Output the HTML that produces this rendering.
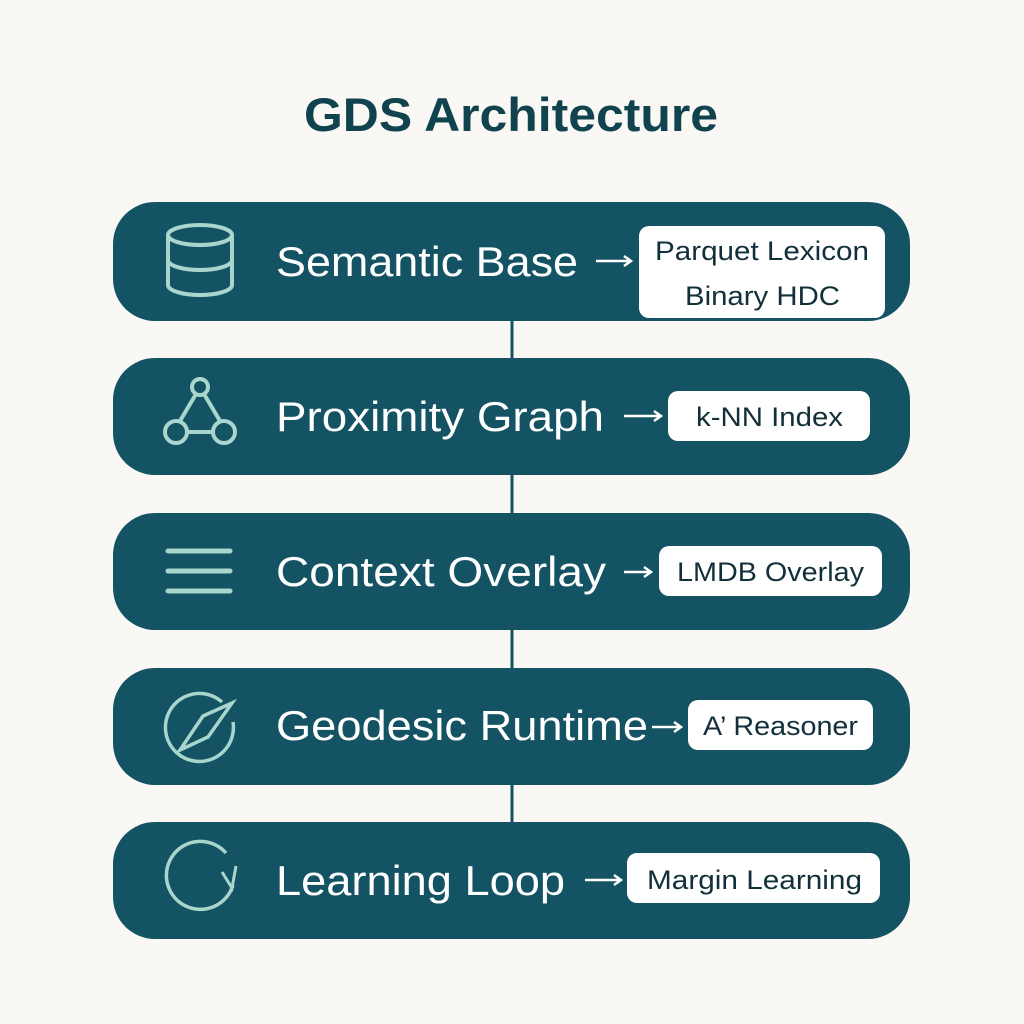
<!DOCTYPE html>
<html><head><style>
html,body{margin:0;padding:0;background:#f9f8f5;}
svg{display:block;}
.l{font-family:"Liberation Sans",sans-serif;font-size:42px;fill:#fff;}
.b{font-family:"Liberation Sans",sans-serif;font-size:27px;fill:#12303a;}
.ic{fill:none;stroke:#a9d6cc;stroke-width:4;}
.ar{stroke:#fff;stroke-width:2.5;fill:none;}
</style></head><body>
<svg width="1024" height="1024" viewBox="0 0 1024 1024">
<rect width="1024" height="1024" fill="#f9f8f5"/>
<text x="304" y="131" textLength="414" lengthAdjust="spacingAndGlyphs" font-family="Liberation Sans,sans-serif" font-weight="bold" font-size="47" fill="#11434f">GDS Architecture</text>
<line x1="512" y1="315" x2="512" y2="830" stroke="#135363" stroke-width="3"/>
<g fill="#135363">
<rect x="113" y="202" width="797" height="119" rx="42"/>
<rect x="113" y="358" width="797" height="117" rx="42"/>
<rect x="113" y="513" width="797" height="117" rx="42"/>
<rect x="113" y="668" width="797" height="117" rx="42"/>
<rect x="113" y="822" width="797" height="117" rx="42"/>
</g>
<g class="ic">
<ellipse cx="200" cy="235" rx="32" ry="10"/>
<path d="M168 235 V285 A32 10 0 0 0 232 285 V235"/>
<path d="M168 260 A32 10 0 0 0 232 260"/>
<circle cx="200" cy="387" r="8"/><circle cx="176" cy="432" r="11"/><circle cx="224" cy="432" r="11"/>
<path d="M196 394 L180 421 M204 394 L220 421 M187 432 H213"/>
<path d="M168 551 H230 M168 571 H230 M168 591 H230" stroke-linecap="round" stroke-width="5"/>
<path d="M222 702 A34 34 0 1 0 233 722" stroke-width="3.5"/>
<path d="M232 703 L208 737 L180 750 L203 716 Z" stroke-width="3.5"/>
<path d="M226 853 A34 34 0 1 0 233 885" stroke-width="3.5"/>
<path d="M222 872 L232 888 L236 866" stroke-width="3"/>
</g>
<text class="l" x="276" y="276" textLength="302" lengthAdjust="spacingAndGlyphs">Semantic Base</text>
<text class="l" x="276" y="431" textLength="328" lengthAdjust="spacingAndGlyphs">Proximity Graph</text>
<text class="l" x="276" y="586" textLength="330" lengthAdjust="spacingAndGlyphs">Context Overlay</text>
<text class="l" x="276" y="740" textLength="372" lengthAdjust="spacingAndGlyphs">Geodesic Runtime</text>
<text class="l" x="276" y="895" textLength="289" lengthAdjust="spacingAndGlyphs">Learning Loop</text>
<g class="ar">
<path d="M596 261 H630 M624 256 L631 261 L624 266"/>
<path d="M624 416 H660 M654 411 L661 416 L654 421"/>
<path d="M624 572 H650 M644 567 L651 572 L644 577"/>
<path d="M652 727 H680 M674 722 L681 727 L674 732"/>
<path d="M585 880 H620 M614 875 L621 880 L614 885"/>
</g>
<g fill="#fff">
<rect x="639" y="226" width="246" height="92" rx="10"/>
<rect x="668" y="391" width="202" height="50" rx="10"/>
<rect x="659" y="546" width="223" height="50" rx="10"/>
<rect x="688" y="700" width="185" height="50" rx="10"/>
<rect x="627" y="853" width="253" height="50" rx="10"/>
</g>
<text class="b" x="655" y="260" textLength="214" lengthAdjust="spacingAndGlyphs">Parquet Lexicon</text>
<text class="b" x="685" y="305" textLength="155" lengthAdjust="spacingAndGlyphs">Binary HDC</text>
<text class="b" x="696" y="426" textLength="147" lengthAdjust="spacingAndGlyphs">k-NN Index</text>
<text class="b" x="677" y="581" textLength="187" lengthAdjust="spacingAndGlyphs">LMDB Overlay</text>
<text class="b" x="703" y="735" textLength="155" lengthAdjust="spacingAndGlyphs">A’ Reasoner</text>
<text class="b" x="647" y="889" textLength="215" lengthAdjust="spacingAndGlyphs">Margin Learning</text>
</svg>
</body></html>
